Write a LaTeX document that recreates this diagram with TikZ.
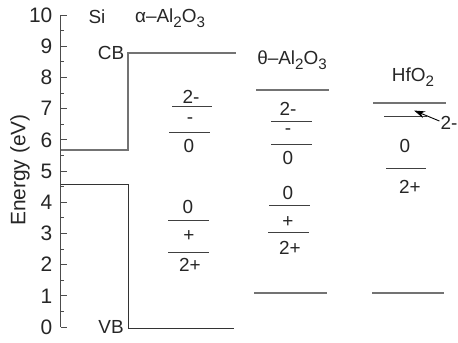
\documentclass[tikz,border=0pt]{standalone}
\usepackage{fontspec}
\setmainfont{Liberation Sans}
\usetikzlibrary{arrows.meta}
\newcommand{\sbs}[1]{\raisebox{-0.5ex}{\scalebox{0.8}{#1}}}
\tikzset{
  lbl/.style={inner sep=0pt, font=\fontsize{19}{20}\selectfont, text=black!85},
  ticklbl/.style={inner sep=0pt, anchor=east, font=\fontsize{21}{22}\selectfont, text=black!85},
  lvl/.style={draw=black!75, line width=1bp},
  band/.style={draw=black!55, line width=1.2bp},
  bandd/.style={draw=black!80, line width=1bp},
  axis/.style={draw=black!70, line width=1bp},
}
\begin{document}
\begin{tikzpicture}[x=1bp,y=-1bp]
\useasboundingbox (0,0) rectangle (458,342);
% axis
\draw[axis] (60.5,15) -- (60.5,327);
\foreach \e in {0,...,10} {
  \draw[axis] (60.5,{327-31.2*\e}) -- (67,{327-31.2*\e});
  \node[ticklbl] (t\e) at (52.5,{327-31.2*\e}) {\e};
}
\foreach \e in {0,...,9} {
  \draw[axis] (60.5,{327-31.2*(\e+0.5)}) -- (64,{327-31.2*(\e+0.5)});
}
\node[lbl, rotate=90, font=\fontsize{21}{22}\selectfont] (ylab) at (20,170) {Energy (eV)};
% Si bands
\draw[band] (60.5,150) -- (128,150) -- (128,53) -- (236,53);
\draw[bandd] (60.5,184.5) -- (128,184.5) -- (128,328) -- (234,328);
\node[lbl] (si) at (97,17) {Si};
\node[lbl] (alpha) at (170,18) {α–Al\sbs{2}O\sbs{3}};
\node[lbl] (cb) at (111,53) {CB};
\node[lbl] (vb) at (111,327) {VB};
% alpha column
\draw[lvl] (172,106.5) -- (212,106.5);
\draw[lvl] (169,132) -- (210,132);
\node[lbl] (a2m) at (191,97) {2-};
\node[lbl] (a1m) at (190,121) {-};
\node[lbl] (a0) at (189,146) {0};
\draw[lvl] (168,220) -- (209,220);
\draw[lvl] (168,252) -- (209,252);
\node[lbl] (a0b) at (188,207) {0};
\node[lbl] (a1p) at (189,236) {+};
\node[lbl] (a2p) at (190,265) {2+};
% theta column
\node[lbl] (theta) at (292,60) {θ–Al\sbs{2}O\sbs{3}};
\draw[band] (256,90) -- (329,90);
\node[lbl] (t2m) at (288,109) {2-};
\draw[lvl] (271,121) -- (312,121);
\node[lbl] (t1m) at (288,132) {-};
\draw[lvl] (271,144) -- (312,144);
\node[lbl] (t0) at (288,158) {0};
\node[lbl] (t0b) at (288,193) {0};
\draw[lvl] (269,205) -- (310,205);
\node[lbl] (t1p) at (288,222) {+};
\draw[lvl] (268,232.5) -- (309,232.5);
\node[lbl] (t2p) at (290,248) {2+};
\draw[band] (254,293) -- (327,293);
% HfO2 column
\node[lbl] (hf) at (413,77) {HfO\sbs{2}};
\draw[band] (373,103) -- (446,103);
\draw[lvl] (384,116) -- (427,116);
\node[lbl] (h2m) at (449,123) {2-};
\coordinate (htip) at (414,110.5);
\draw[draw=black, line width=0.9bp, -{Stealth[length=11bp,width=7bp]}] (h2m.west) ++(-1,-2) -- (htip);
\node[lbl] (h0) at (405,146) {0};
\draw[lvl] (386,168) -- (426,168);
\node[lbl] (h2p) at (410,187) {2+};
\draw[band] (372,293) -- (444,293);
\end{tikzpicture}
\end{document}
